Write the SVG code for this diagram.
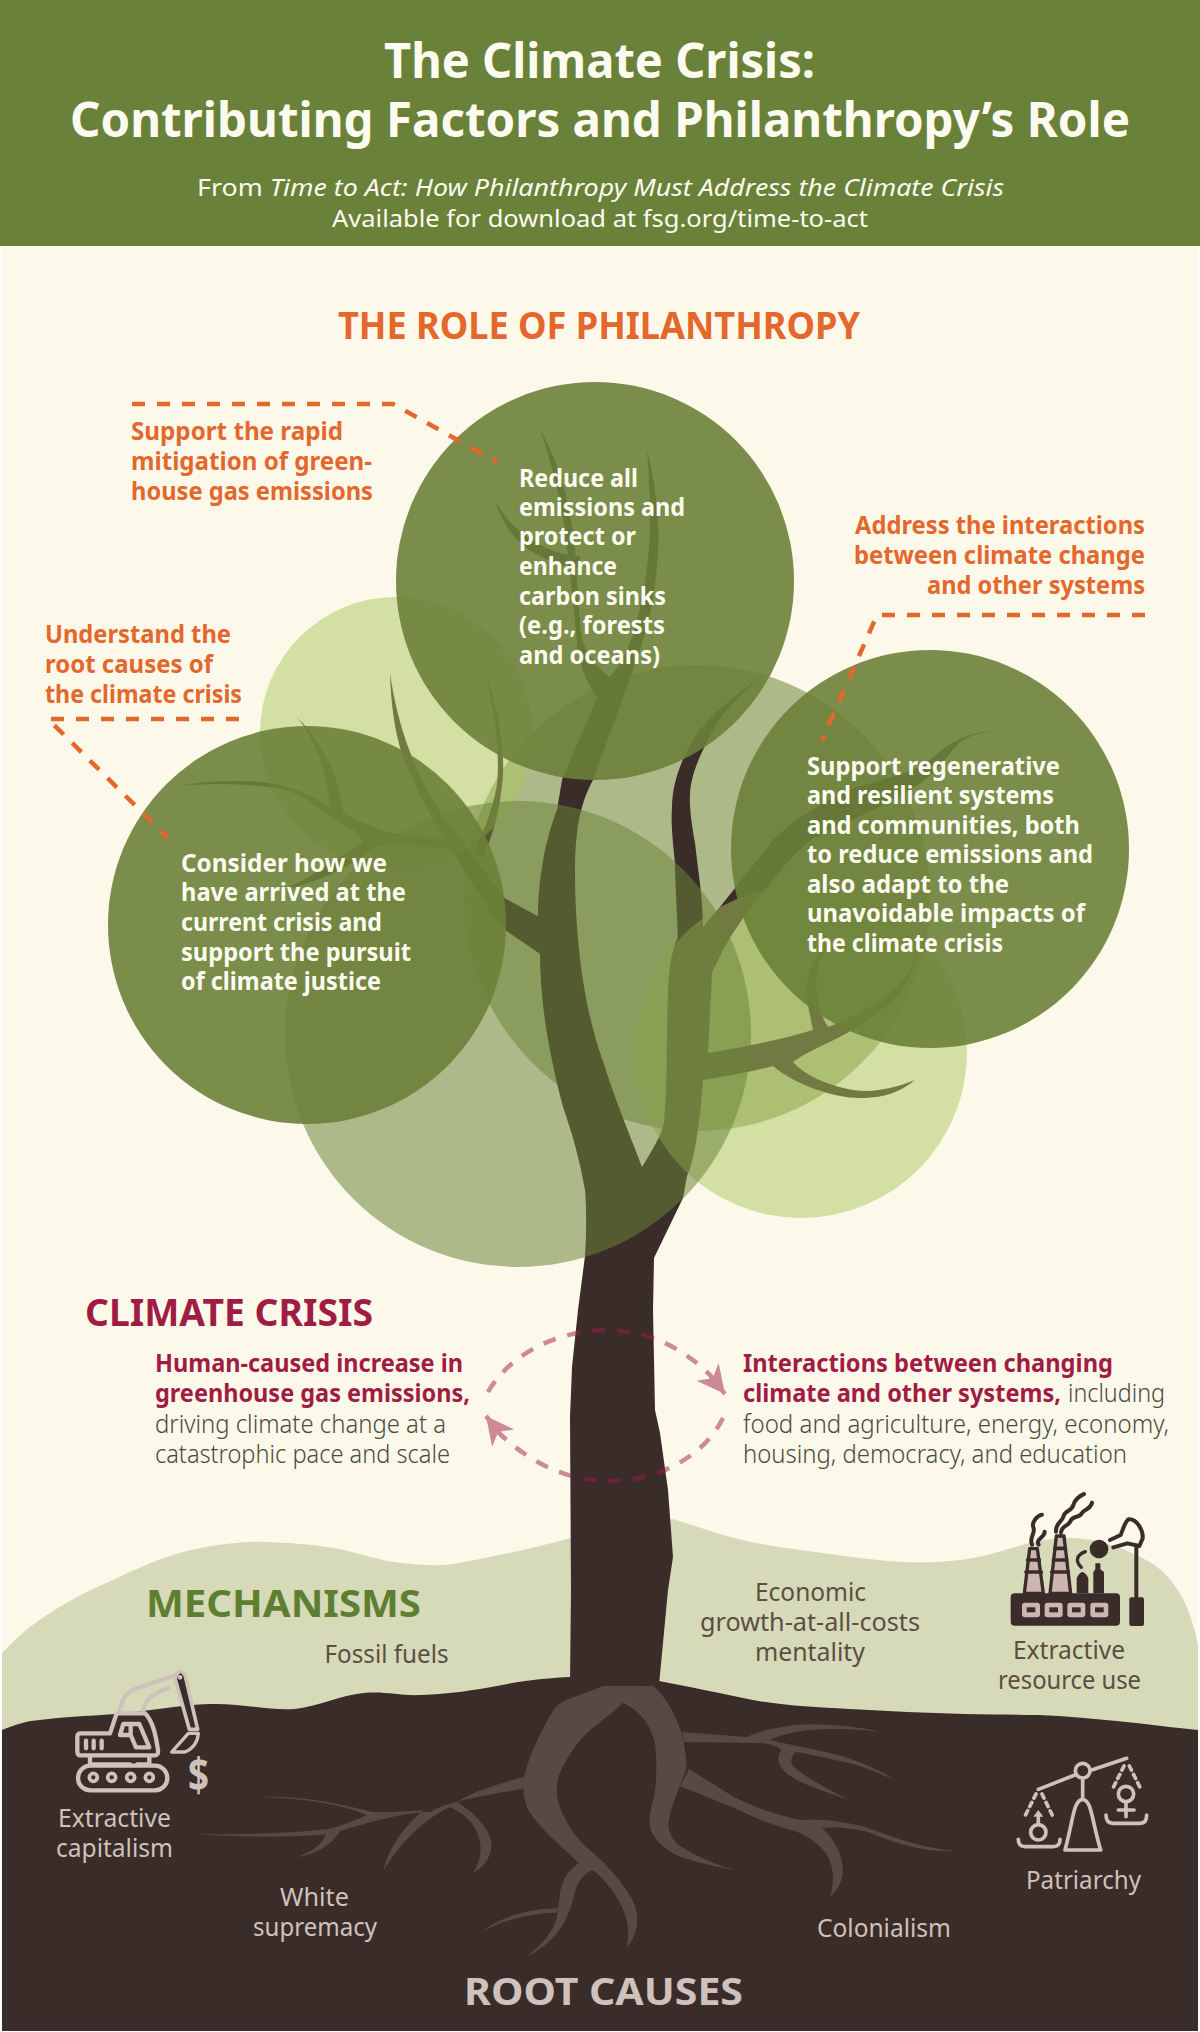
<svg xmlns="http://www.w3.org/2000/svg" width="1200" height="2032" viewBox="0 0 1200 2032">
<style>
text{font-family:"Noto Sans","Open Sans","Liberation Sans",sans-serif}
.b{font-weight:700}
.r{font-weight:400}
.lt{font-weight:300}
.w{fill:#fdfbf0}
.o{fill:#e4672c}
.m{fill:#a11c44}
.d{fill:#4b4a3c}
.s{fill:#5c4e43}
.l{fill:#cfc2bc}
.t26{font-size:25.5px}
.t24{font-size:24.5px}
.h{font-size:38px;font-weight:700}
.leaf{fill:#6c8139;opacity:.9}
.haze{fill:#6b8439;opacity:.54}
.pale{fill:#aac55c;opacity:.5}
.bark{fill:#3a2c29}
.root{fill:#574a46}
.dash{fill:none;stroke:#e4672c;stroke-width:4.5;stroke-dasharray:13 12}
.loop{fill:none;stroke:#a11c44;stroke-width:4.5;stroke-dasharray:13 12;opacity:.5}
.ic{fill:none;stroke:#cfc2bc;stroke-linecap:round;stroke-linejoin:round}
.id{fill:none;stroke:#3a2c29;stroke-linecap:round;stroke-linejoin:round}
</style>
<defs>
<marker id="head" markerUnits="userSpaceOnUse" markerWidth="34" markerHeight="34" viewBox="0 0 34 34" refX="30" refY="17" orient="auto"><path d="M2,3 L30,17 L2,31 L10,17 Z" fill="#a11c44"/></marker>
</defs>
<rect width="1200" height="2032" fill="#ffffff"/>
<rect x="2" y="0" width="1196" height="2031" fill="#fcf9ea"/>
<g id="header">
<rect x="0" y="0" width="1200" height="246" fill="#6a8139"/>
<text class="b w" x="384" y="78" font-size="48" textLength="431" lengthAdjust="spacingAndGlyphs">The Climate Crisis:</text>
<text class="b w" x="70" y="137" font-size="48" textLength="1060" lengthAdjust="spacingAndGlyphs">Contributing Factors and Philanthropy’s Role</text>
<text class="r w" x="197" y="196" font-size="24" textLength="807" lengthAdjust="spacingAndGlyphs">From <tspan font-style="italic">Time to Act: How Philanthropy Must Address the Climate Crisis</tspan></text>
<text class="r w" x="332" y="227" font-size="24" textLength="536" lengthAdjust="spacingAndGlyphs">Available for download at fsg.org/time-to-act</text>
</g>
<g id="ground">
<path id="hill" fill="#d6dab9" d="M2,1653 C15,1640 25,1630 38,1621 C65,1602 90,1590 115,1579 C140,1567 165,1556 191,1550 C220,1544 245,1541 268,1542 C295,1543 320,1545 344,1550 C365,1555 385,1562 402,1563 C420,1565 440,1567 459,1563 C500,1555 535,1548 570,1538 L673,1519 C695,1526 715,1533 734,1538 C765,1546 800,1550 830,1554 C865,1559 905,1564 937,1562 C955,1561 970,1559 983,1556 C1010,1549 1035,1540 1059,1538 C1080,1537 1100,1541 1117,1547 C1135,1554 1150,1560 1163,1572 C1172,1581 1180,1592 1185,1603 C1191,1617 1195,1630 1198,1645 L1198,1760 L2,1760 Z"/>
</g>
<circle id="crown-haze-middle" class="haze" cx="697" cy="898" r="233"/>
<g id="tree">
<path class="bark" d="M570,1685 L571,1590 L570,1417 L572,1367 L578,1310 L585,1256 C587,1225 586,1200 585,1190 C578,1150 569,1125 563,1107 C548,1050 540,1000 540,953 L538,918 C538,880 545,840 557,810 L562,780 L597,698 C585,680 578,660 577,643 C574,610 571,580 568,557 C566,530 560,490 540,428 C562,470 572,510 576,560 C578,600 580,625 582,640 C590,660 600,670 610,677 C625,660 632,640 637,620 C645,590 650,555 650,520 C650,500 649,475 647,450 C655,480 660,520 658,553 C655,600 648,630 633,670 L593,780 C582,800 575,825 575,873 C575,920 580,1000 604,1064 C615,1100 632,1140 642,1167 C652,1150 662,1135 664,1122 C668,1080 666,1040 668,997 C668,970 672,950 678,937 C677,910 675,880 675,863 C672,835 671,820 672,807 C672,780 685,750 700,730 C715,712 735,695 760,678 C740,695 728,708 717,723 C705,745 695,765 692,780 C688,795 690,815 695,843 C698,870 703,900 703,927 C708,920 714,914 720,907 L773,840 C795,818 820,805 847,790 C880,780 905,775 927,763 C940,750 960,733 993,731 C980,733 972,735 963,740 C950,750 945,762 933,773 C915,790 895,798 873,810 C850,822 825,830 807,843 C795,853 785,865 773,880 C760,895 745,915 733,933 C725,945 718,960 712,973 L708,1053 C740,1048 780,1040 813,1030 C810,1015 806,1000 807,983 C808,970 815,955 827,948 C818,960 815,975 817,993 C818,1005 822,1018 828,1027 C860,1015 885,1000 900,983 C910,972 915,960 918,948 C917,965 912,975 903,990 C895,1000 870,1020 847,1033 C825,1045 810,1050 793,1062 C805,1075 825,1085 853,1090 C875,1093 895,1088 915,1080 C900,1092 885,1098 860,1098 C835,1098 795,1085 773,1066 C750,1072 725,1076 703,1080 C700,1120 695,1160 687,1176 L683,1198 L654,1258 L653,1310 L655,1410 L660,1433 L668,1490 L673,1557 L668,1590 L659,1685 Z"/>
<g transform="translate(100,640) scale(.33333)">
<path class="bark" d="M1325,835 L1215,775 C1170,720 1130,660 1100,620 C1050,560 1020,520 1000,480 C960,410 900,300 870,100 C875,250 900,340 930,400 C960,470 1000,545 1040,600 L960,590 C900,590 830,570 730,520 C720,430 680,320 590,230 C650,300 680,400 690,500 C640,470 570,430 470,425 C390,420 320,425 250,435 C350,432 470,430 560,450 C640,480 690,540 760,570 C775,585 785,595 790,605 C700,660 630,720 540,750 C640,730 720,700 830,620 C900,612 980,615 1050,630 C1110,700 1170,830 1215,870 L1325,945 Z"/>
<path class="bark" d="M1120,640 C1150,580 1180,500 1190,440 C1200,360 1190,230 1155,100 C1200,220 1215,340 1208,420 C1200,500 1185,570 1150,650 Z"/>
</g>
<g transform="translate(380,370) scale(.33333)">
<path class="bark" d="M600,560 C520,555 400,500 345,390 C375,490 440,570 600,595 Z"/>
</g>
</g>
<circle id="crown-pale-left" class="pale" cx="396" cy="733" r="136"/>
<circle id="crown-pale-right" class="pale" cx="801" cy="1052" r="166"/>
<circle id="crown-haze-lower" class="haze" cx="518" cy="1034" r="233"/>
<g id="soil">
<path class="bark" d="M2,1730 C12,1726 20,1723 31,1721 C60,1717 88,1716 115,1714 C150,1711 180,1705 210,1704 C240,1703 270,1711 295,1709 C320,1706 340,1695 364,1693 C385,1691 400,1696 421,1695 C450,1694 475,1690 497,1686 C525,1680 550,1678 570,1677 L659,1681 C690,1687 720,1693 753,1700 C785,1706 815,1707 849,1709 C890,1711 925,1713 964,1714 C1000,1715 1030,1714 1059,1716 C1085,1718 1110,1720 1136,1723 C1160,1726 1180,1728 1198,1730 L1198,2031 L2,2031 Z"/>
</g>
<g id="roots">
<g transform="translate(440,1670) scale(.33333)">
<path class="root" d="M490,48 L640,48 C670,75 700,115 725,190 C733,220 738,260 740,290 C735,310 728,325 720,345 C705,385 690,425 685,460 C685,485 695,505 715,525 C770,560 830,585 885,600 C820,590 770,575 720,560 C685,545 650,520 632,480 C625,450 630,420 640,390 C650,350 652,270 645,220 C635,170 600,120 548,98 C520,130 470,160 440,190 C400,230 375,275 355,320 C345,360 350,400 375,445 C395,490 430,525 460,550 C510,590 555,650 580,695 C600,740 595,790 560,835 C570,790 565,745 540,700 C520,660 490,625 458,600 C430,610 415,635 405,665 C395,710 380,750 355,785 C330,815 300,840 262,858 C300,830 330,795 345,760 C355,735 352,720 358,690 C360,640 380,605 415,580 C370,530 300,480 265,420 C250,385 245,350 255,310 C270,250 300,190 340,120 C355,100 375,90 400,82 Z"/>
<path class="root" d="M355,715 C280,715 190,735 125,785 C180,755 260,730 350,728 Z"/>
</g>
<path class="root" d="M526,1776 C500,1784 476,1790 457,1802 C478,1815 495,1835 491,1850 C488,1862 482,1868 473,1873 C482,1858 483,1845 476,1830 C470,1818 460,1812 450,1807 C432,1815 405,1835 383,1871 C390,1845 405,1825 424,1810 C408,1812 385,1812 372,1812 C345,1805 305,1795 256,1797 C305,1798 340,1804 367,1815 C355,1820 342,1826 329,1829 C295,1833 240,1835 191,1834 C240,1837 290,1838 326,1834 C322,1845 310,1853 297,1857 C315,1855 332,1845 340,1831 C370,1822 405,1812 430,1812 C450,1800 490,1795 526,1788 Z"/>
<path class="root" d="M682,1732 L747,1737 C765,1728 800,1722 830,1725 C850,1726 865,1728 879,1732 C860,1729 845,1729 830,1729 C805,1729 785,1733 770,1740 C790,1745 820,1750 845,1757 C865,1764 880,1770 893,1779 C875,1772 860,1765 845,1762 C825,1758 810,1754 795,1752 C790,1758 790,1764 795,1768 C810,1780 830,1790 849,1800 C830,1793 810,1787 795,1779 C782,1772 775,1762 780,1752 C785,1748 770,1744 761,1743 L684,1742 Z"/>
<path class="root" d="M689,1769 L734,1797 C755,1807 775,1815 800,1820 C820,1818 845,1822 865,1827 C890,1836 920,1848 956,1851 C925,1853 895,1843 868,1832 C850,1828 835,1826 822,1828 C835,1840 843,1855 843,1872 C842,1882 838,1890 830,1897 C835,1880 834,1865 825,1852 C815,1840 800,1832 791,1830 C770,1825 750,1815 734,1808 L680,1786 Z"/>
</g>
<circle id="crown-leaf-left" class="leaf" cx="307" cy="925" r="199"/>
<circle id="crown-leaf-top" class="leaf" cx="595" cy="581" r="199"/>
<circle id="crown-leaf-right" class="leaf" cx="930" cy="849" r="199"/>
<g id="connectors">
<polyline class="dash" points="132,404 393,404 497,462"/>
<polyline class="dash" points="239,719 48,719 168,838"/>
<polyline class="dash" points="1145,615 877,615 822,740"/>
<path class="loop" marker-end="url(#head)" d="M488,1392 C505,1362 545,1332 605,1330 C650,1330 685,1350 710,1375 L725,1394"/>
<path class="loop" marker-end="url(#head)" d="M723,1418 C705,1455 660,1481 610,1481 C565,1481 530,1462 500,1434 L486,1416"/>
</g>
<g id="role-heading"><text class="h o" x="338" y="339" textLength="522" lengthAdjust="spacingAndGlyphs">THE ROLE OF PHILANTHROPY</text></g>
<g id="label-mitigation" class="b o t26">
<text x="131" y="440" textLength="212" lengthAdjust="spacingAndGlyphs">Support the rapid</text>
<text x="131" y="470" textLength="241" lengthAdjust="spacingAndGlyphs">mitigation of green-</text>
<text x="131" y="500" textLength="242" lengthAdjust="spacingAndGlyphs">house gas emissions</text>
</g>
<g id="label-root" class="b o t26">
<text x="45" y="643" textLength="186" lengthAdjust="spacingAndGlyphs">Understand the</text>
<text x="45" y="673" textLength="168" lengthAdjust="spacingAndGlyphs">root causes of</text>
<text x="45" y="703" textLength="197" lengthAdjust="spacingAndGlyphs">the climate crisis</text>
</g>
<g id="label-interactions" class="b o t26">
<text x="855" y="534" textLength="290" lengthAdjust="spacingAndGlyphs">Address the interactions</text>
<text x="854" y="564" textLength="291" lengthAdjust="spacingAndGlyphs">between climate change</text>
<text x="927" y="594" textLength="218" lengthAdjust="spacingAndGlyphs">and other systems</text>
</g>
<g id="text-top" class="b w t26">
<text x="519" y="487" textLength="119" lengthAdjust="spacingAndGlyphs">Reduce all</text>
<text x="519" y="516" textLength="166" lengthAdjust="spacingAndGlyphs">emissions and</text>
<text x="519" y="545" textLength="117" lengthAdjust="spacingAndGlyphs">protect or</text>
<text x="519" y="575" textLength="98" lengthAdjust="spacingAndGlyphs">enhance</text>
<text x="519" y="605" textLength="147" lengthAdjust="spacingAndGlyphs">carbon sinks</text>
<text x="519" y="634" textLength="146" lengthAdjust="spacingAndGlyphs">(e.g., forests</text>
<text x="519" y="664" textLength="141" lengthAdjust="spacingAndGlyphs">and oceans)</text>
</g>
<g id="text-left" class="b w t26">
<text x="181" y="872" textLength="206" lengthAdjust="spacingAndGlyphs">Consider how we</text>
<text x="181" y="901" textLength="225" lengthAdjust="spacingAndGlyphs">have arrived at the</text>
<text x="181" y="931" textLength="201" lengthAdjust="spacingAndGlyphs">current crisis and</text>
<text x="181" y="961" textLength="230" lengthAdjust="spacingAndGlyphs">support the pursuit</text>
<text x="181" y="990" textLength="200" lengthAdjust="spacingAndGlyphs">of climate justice</text>
</g>
<g id="text-right" class="b w t26">
<text x="807" y="775" textLength="253" lengthAdjust="spacingAndGlyphs">Support regenerative</text>
<text x="807" y="804" textLength="247" lengthAdjust="spacingAndGlyphs">and resilient systems</text>
<text x="807" y="834" textLength="273" lengthAdjust="spacingAndGlyphs">and communities, both</text>
<text x="807" y="863" textLength="286" lengthAdjust="spacingAndGlyphs">to reduce emissions and</text>
<text x="807" y="893" textLength="202" lengthAdjust="spacingAndGlyphs">also adapt to the</text>
<text x="807" y="922" textLength="278" lengthAdjust="spacingAndGlyphs">unavoidable impacts of</text>
<text x="807" y="952" textLength="196" lengthAdjust="spacingAndGlyphs">the climate crisis</text>
</g>
<g id="crisis-heading"><text class="h m" x="85" y="1326" textLength="288" lengthAdjust="spacingAndGlyphs">CLIMATE CRISIS</text></g>
<g id="crisis-left" class="t26">
<text class="b m" x="155" y="1372" textLength="308" lengthAdjust="spacingAndGlyphs">Human-caused increase in</text>
<text class="b m" x="155" y="1402" textLength="315" lengthAdjust="spacingAndGlyphs">greenhouse gas emissions,</text>
<text class="lt d" x="155" y="1433" textLength="291" lengthAdjust="spacingAndGlyphs">driving climate change at a</text>
<text class="lt d" x="155" y="1463" textLength="295" lengthAdjust="spacingAndGlyphs">catastrophic pace and scale</text>
</g>
<g id="crisis-right" class="t26">
<text class="b m" x="743" y="1372" textLength="370" lengthAdjust="spacingAndGlyphs">Interactions between changing</text>
<text y="1402"><tspan class="b m" x="743" textLength="318" lengthAdjust="spacingAndGlyphs">climate and other systems,</tspan><tspan class="lt d" x="1068" textLength="97" lengthAdjust="spacingAndGlyphs">including</tspan></text>
<text class="lt d" x="743" y="1433" textLength="426" lengthAdjust="spacingAndGlyphs">food and agriculture, energy, economy,</text>
<text class="lt d" x="743" y="1463" textLength="384" lengthAdjust="spacingAndGlyphs">housing, democracy, and education</text>
</g>
<g id="mechanisms-heading"><text class="h" fill="#5e7f32" x="146" y="1617" textLength="275" lengthAdjust="spacingAndGlyphs">MECHANISMS</text></g>
<g id="fossil-fuels"><text class="r s t24" x="324.5" y="1663" textLength="124" lengthAdjust="spacingAndGlyphs">Fossil fuels</text></g>
<g id="economic-growth" class="r s t24">
<text x="755" y="1601" textLength="111" lengthAdjust="spacingAndGlyphs">Economic</text>
<text x="700" y="1631" textLength="220" lengthAdjust="spacingAndGlyphs">growth-at-all-costs</text>
<text x="755" y="1661" textLength="110" lengthAdjust="spacingAndGlyphs">mentality</text>
</g>
<g id="extractive-resource">
<g transform="translate(980,1480) scale(.33333)">
<rect x="92" y="340" width="328" height="97" rx="12" fill="#3a2c29"/>
<g fill="#cdb5b2"><rect x="126" y="368" width="54" height="44" rx="9"/><rect x="194" y="368" width="54" height="44" rx="9"/><rect x="262" y="368" width="54" height="44" rx="9"/><rect x="331" y="368" width="54" height="44" rx="9"/></g>
<g fill="#3a2c29"><rect x="140" y="382" width="26" height="15"/><rect x="208" y="382" width="26" height="15"/><rect x="276" y="382" width="26" height="15"/><rect x="345" y="382" width="26" height="15"/></g>
<path d="M149,206 H172 L190,340 H133 Z" fill="#cdb5b2" stroke="#3a2c29" stroke-width="10" stroke-linejoin="round"/>
<path d="M229,168 H252 L272,340 H210 Z" fill="#cdb5b2" stroke="#3a2c29" stroke-width="10" stroke-linejoin="round"/>
<path class="id" stroke-width="11" d="M143,240 H178 M138,276 H184 M225,205 H256 M220,240 H260 M215,276 H265"/>
<path class="id" stroke-width="12" d="M156,194 C146,172 168,160 160,142 C155,126 170,108 186,104 M176,194 C165,178 196,172 194,155 M228,155 C225,130 245,128 250,110 C255,90 275,95 280,75 C285,55 300,48 312,42 M243,158 C245,135 265,140 272,122 C280,105 298,115 305,100 C315,85 330,90 336,68"/>
<path d="M290,340 V295 Q294,282 307,275 Q321,282 325,295 V340 Z M340,340 V276 L346,268 V250 H361 V268 L372,276 V340 Z" fill="#3a2c29"/>
<path class="id" stroke-width="10" d="M304,262 C286,245 288,225 316,215"/>
<circle cx="357" cy="207" r="28" fill="#3a2c29"/>
<path class="id" stroke-width="12" d="M390,180 L422,165 C430,145 435,125 445,118 C470,115 490,150 488,175 L478,198 L442,190 L400,202 M469,200 V350"/>
<rect x="448" y="352" width="44" height="86" rx="6" fill="#3a2c29"/>
</g>
<text class="r s t24" x="1013" y="1659" textLength="112" lengthAdjust="spacingAndGlyphs">Extractive</text>
<text class="r s t24" x="998" y="1689" textLength="143" lengthAdjust="spacingAndGlyphs">resource use</text>
</g>
<g id="extractive-capitalism">
<g transform="translate(60,1650) scale(.33333)">
<rect x="54" y="347" width="268" height="74" rx="37" class="ic" stroke-width="13"/>
<g class="ic" stroke-width="11"><circle cx="100" cy="382" r="12"/><circle cx="155" cy="382" r="12"/><circle cx="212" cy="382" r="12"/><circle cx="268" cy="382" r="12"/></g>
<path class="ic" stroke-width="13" d="M90,318 V345 M90,343 H210 M232,343 H268 V318 M150,250 H62 Q52,250 52,260 V305 Q52,316 62,316 H285 Q296,316 294,300 C288,260 280,215 255,190 H170 L150,250 M190,222 H238 L268,292 H228 L212,255 H180 Z M212,225 V252 M78,272 V295 M101,272 V295 M125,272 V295 M180,182 C188,140 200,128 230,115 L342,78 M250,180 C255,150 270,135 325,113"/>
<path d="M345,85 Q360,48 376,78 L413,238 H388 Z" fill="#3a2c29" stroke="#cfc2bc" stroke-width="11" stroke-linejoin="round"/>
<circle cx="360" cy="82" r="7" fill="#cfc2bc"/>
<path d="M385,250 L335,306 H375 Q412,290 415,250 Z" fill="#3a2c29" stroke="#cfc2bc" stroke-width="10" stroke-linejoin="round"/>
</g>
<text class="b l" x="188" y="1792" font-size="46" textLength="21" lengthAdjust="spacingAndGlyphs">$</text>
<text class="r l t24" x="58" y="1827" textLength="113" lengthAdjust="spacingAndGlyphs">Extractive</text>
<text class="r l t24" x="56" y="1857" textLength="117" lengthAdjust="spacingAndGlyphs">capitalism</text>
</g>
<g id="white-supremacy" class="r l t24">
<text x="280" y="1906" textLength="69" lengthAdjust="spacingAndGlyphs">White</text>
<text x="253" y="1936" textLength="124" lengthAdjust="spacingAndGlyphs">supremacy</text>
</g>
<g id="colonialism"><text class="r l t24" x="817" y="1937" textLength="134" lengthAdjust="spacingAndGlyphs">Colonialism</text></g>
<g id="patriarchy">
<g transform="translate(1010,1740) scale(.33333)">
<g class="ic" stroke-width="11">
<path d="M85,148 L195,105 M245,90 L350,55 M218,115 V175 M165,330 C190,240 190,180 218,178 C245,180 245,240 272,330 Z M25,298 Q25,320 45,320 H130 Q150,320 150,298 M288,225 Q288,250 310,250 H390 Q410,250 410,225"/>
<circle cx="218" cy="92" r="22"/>
<circle cx="85" cy="277" r="23"/>
<circle cx="348" cy="162" r="23"/>
<path d="M85,250 V228 M348,186 V230 M325,210 H372"/>
<path stroke-dasharray="14 14" d="M78,162 L46,226 M96,162 L127,226 M342,78 L310,142 M358,78 L390,142"/>
</g>
<path d="M70,230 L85,210 L100,230 Z" fill="#cfc2bc"/>
</g>
<text class="r l t24" x="1026" y="1889" textLength="115" lengthAdjust="spacingAndGlyphs">Patriarchy</text>
</g>
<g id="root-causes-heading"><text class="h l" x="464" y="2005" textLength="279" lengthAdjust="spacingAndGlyphs">ROOT CAUSES</text></g>
</svg>
